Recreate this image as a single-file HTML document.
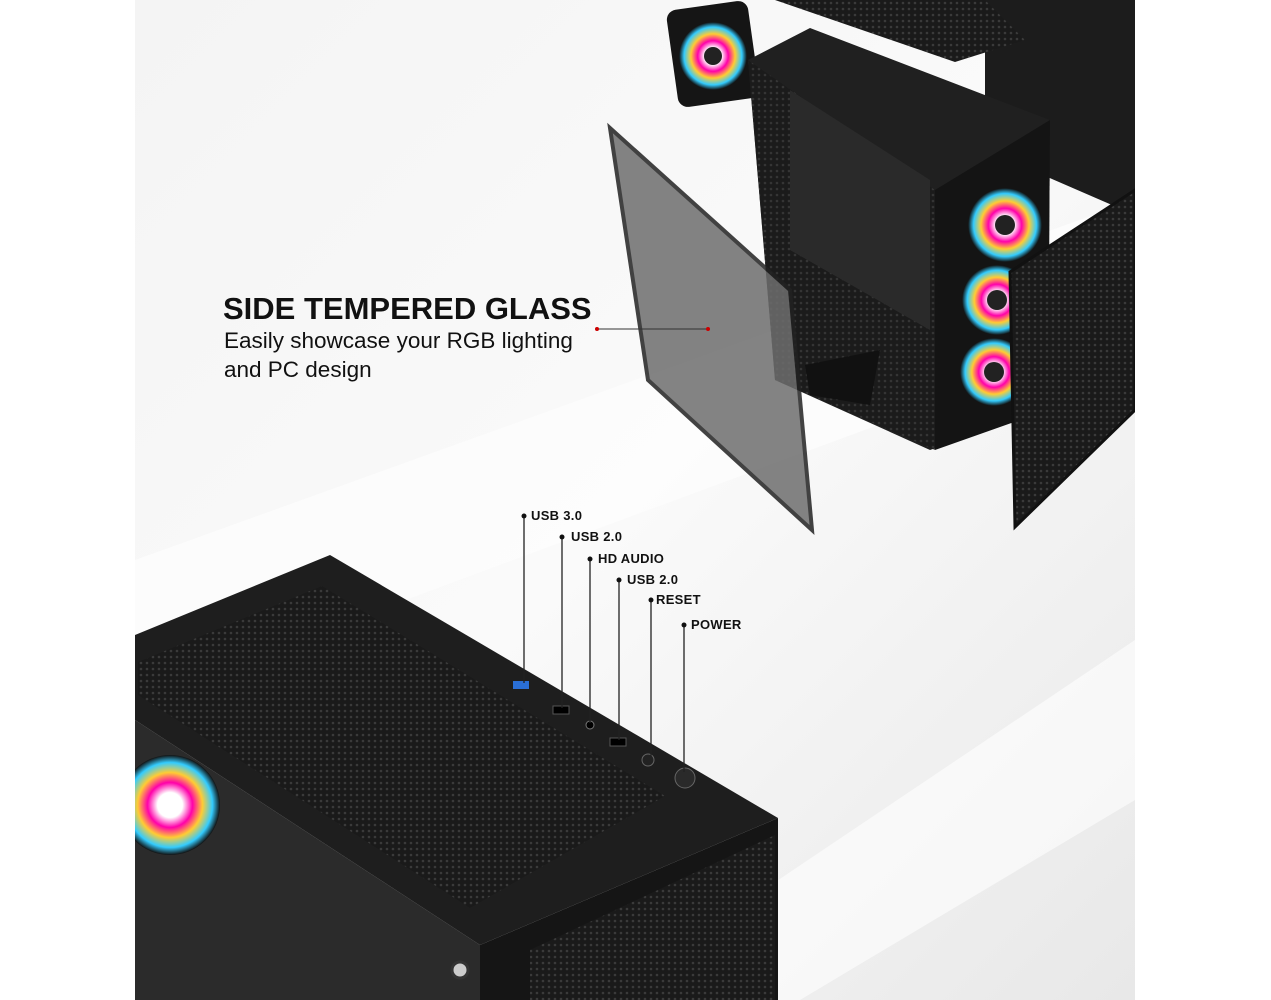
<!DOCTYPE html>
<html><head><meta charset="utf-8"><style>
html,body{margin:0;padding:0;background:#fff;}
body{width:1271px;height:1000px;overflow:hidden;position:relative;font-family:"Liberation Sans",sans-serif;}
.t{position:absolute;color:#111;}
.l{font-size:13px;font-weight:bold;letter-spacing:0.3px;}
</style></head><body>
<svg width="1271" height="1000" style="position:absolute;left:0;top:0">
<defs>
<linearGradient id="bg" x1="0" y1="0" x2="1" y2="1">
<stop offset="0" stop-color="#f4f4f4"/><stop offset="0.5" stop-color="#fafafa"/><stop offset="1" stop-color="#e8e8e8"/></linearGradient>
<radialGradient id="fan" cx="0.5" cy="0.5" r="0.5">
<stop offset="0.25" stop-color="#fff"/><stop offset="0.45" stop-color="#f0a"/><stop offset="0.65" stop-color="#fc3"/><stop offset="0.85" stop-color="#3cf"/><stop offset="1" stop-color="#111"/></radialGradient>
<pattern id="mesh" width="6" height="6" patternUnits="userSpaceOnUse"><rect width="6" height="6" fill="#1a1a1a"/><circle cx="3" cy="3" r="1.3" fill="#3a3a3a"/></pattern>
<clipPath id="cl"><rect x="135" y="0" width="1000" height="1000"/></clipPath>
</defs>
<g clip-path="url(#cl)">
<rect x="135" y="0" width="1000" height="1000" fill="url(#bg)"/>
<polygon points="135,560 1135,200 1135,330 135,700" fill="#fdfdfd" opacity="0.7"/>
<polygon points="600,1000 1135,640 1135,800 800,1000" fill="#fff" opacity="0.6"/>
<polygon points="985,0 1135,0 1135,215 985,150" fill="#1c1c1c"/>
<polygon points="775,0 985,0 1025,40 955,62" fill="url(#mesh)"/>
<rect x="672" y="5" width="82" height="98" rx="10" fill="#151515" transform="rotate(-8 713 54)"/>
<circle cx="713" cy="56" r="34" fill="url(#fan)"/>
<circle cx="713" cy="56" r="9" fill="#222"/>
<polygon points="748,60 810,28 1050,120 1048,410 930,450 775,380" fill="#202020"/>
<polygon points="748,60 935,190 935,450 775,380" fill="url(#mesh)" opacity="0.8"/>
<polygon points="790,90 930,180 930,330 790,250" fill="#2a2a2a"/>
<polygon points="935,190 1050,120 1048,410 935,450" fill="#141414"/>
<circle cx="1005" cy="225" r="37" fill="url(#fan)"/><circle cx="1005" cy="225" r="10" fill="#222"/>
<circle cx="997" cy="300" r="35" fill="url(#fan)"/><circle cx="997" cy="300" r="10" fill="#222"/>
<circle cx="994" cy="372" r="34" fill="url(#fan)"/><circle cx="994" cy="372" r="10" fill="#222"/>
<polygon points="805,365 880,350 870,405 810,395" fill="#111"/>
<polygon points="610,128 790,290 812,530 648,380" fill="#6e6e6e" opacity="0.85" stroke="#222" stroke-width="4"/>
<polygon points="1010,272 1135,190 1135,410 1015,527" fill="url(#mesh)" stroke="#111" stroke-width="3"/>
<line x1="597" y1="329" x2="708" y2="329" stroke="#333" stroke-width="1"/>
<circle cx="597" cy="329" r="2" fill="#c00"/><circle cx="708" cy="329" r="2" fill="#c00"/>
<polygon points="135,720 480,945 480,1000 135,1000" fill="#2b2b2b"/>
<polygon points="135,635 330,555 778,818 480,945 135,720" fill="#1e1e1e"/>
<polygon points="138,662 322,586 665,796 470,908 138,695" fill="url(#mesh)"/>
<polygon points="480,945 778,818 778,1000 480,1000" fill="#151515"/>
<polygon points="530,950 775,835 775,1000 530,1000" fill="url(#mesh)"/>
<circle cx="170" cy="805" r="50" fill="url(#fan)"/>
<circle cx="460" cy="970" r="8" fill="#ccc" stroke="#333" stroke-width="3"/>
</g>
<rect x="513" y="681" width="16" height="8" fill="#2a6fd6"/>
<rect x="553" y="706" width="16" height="8" fill="#000" stroke="#555"/>
<circle cx="590" cy="725" r="4" fill="#000" stroke="#777"/>
<rect x="610" y="738" width="16" height="8" fill="#000" stroke="#555"/>
<circle cx="648" cy="760" r="6" fill="#222" stroke="#666"/>
<circle cx="685" cy="778" r="10" fill="#2a2a2a" stroke="#666"/>
<g stroke="#222" stroke-width="1.3">
<line x1="524" y1="516" x2="524" y2="683"/>
<line x1="562" y1="537" x2="562" y2="708"/>
<line x1="590" y1="559" x2="590" y2="723"/>
<line x1="619" y1="580" x2="619" y2="740"/>
<line x1="651" y1="600" x2="651" y2="757"/>
<line x1="684" y1="625" x2="684" y2="772"/>
</g>
<g fill="#111"><circle cx="524" cy="516" r="2.5"/><circle cx="562" cy="537" r="2.5"/><circle cx="590" cy="559" r="2.5"/><circle cx="619" cy="580" r="2.5"/><circle cx="651" cy="600" r="2.5"/><circle cx="684" cy="625" r="2.5"/></g>
</svg>
<div class="t" style="left:223px;top:291px;font-size:31px;font-weight:900;letter-spacing:0px;">SIDE TEMPERED GLASS</div>
<div class="t" style="left:224px;top:326px;font-size:22.5px;line-height:29px;">Easily showcase your RGB lighting<br>and PC design</div>
<div class="t l" style="left:531px;top:508px;">USB 3.0</div>
<div class="t l" style="left:571px;top:529px;">USB 2.0</div>
<div class="t l" style="left:598px;top:551px;">HD AUDIO</div>
<div class="t l" style="left:627px;top:572px;">USB 2.0</div>
<div class="t l" style="left:656px;top:592px;">RESET</div>
<div class="t l" style="left:691px;top:617px;">POWER</div>
</body></html>
